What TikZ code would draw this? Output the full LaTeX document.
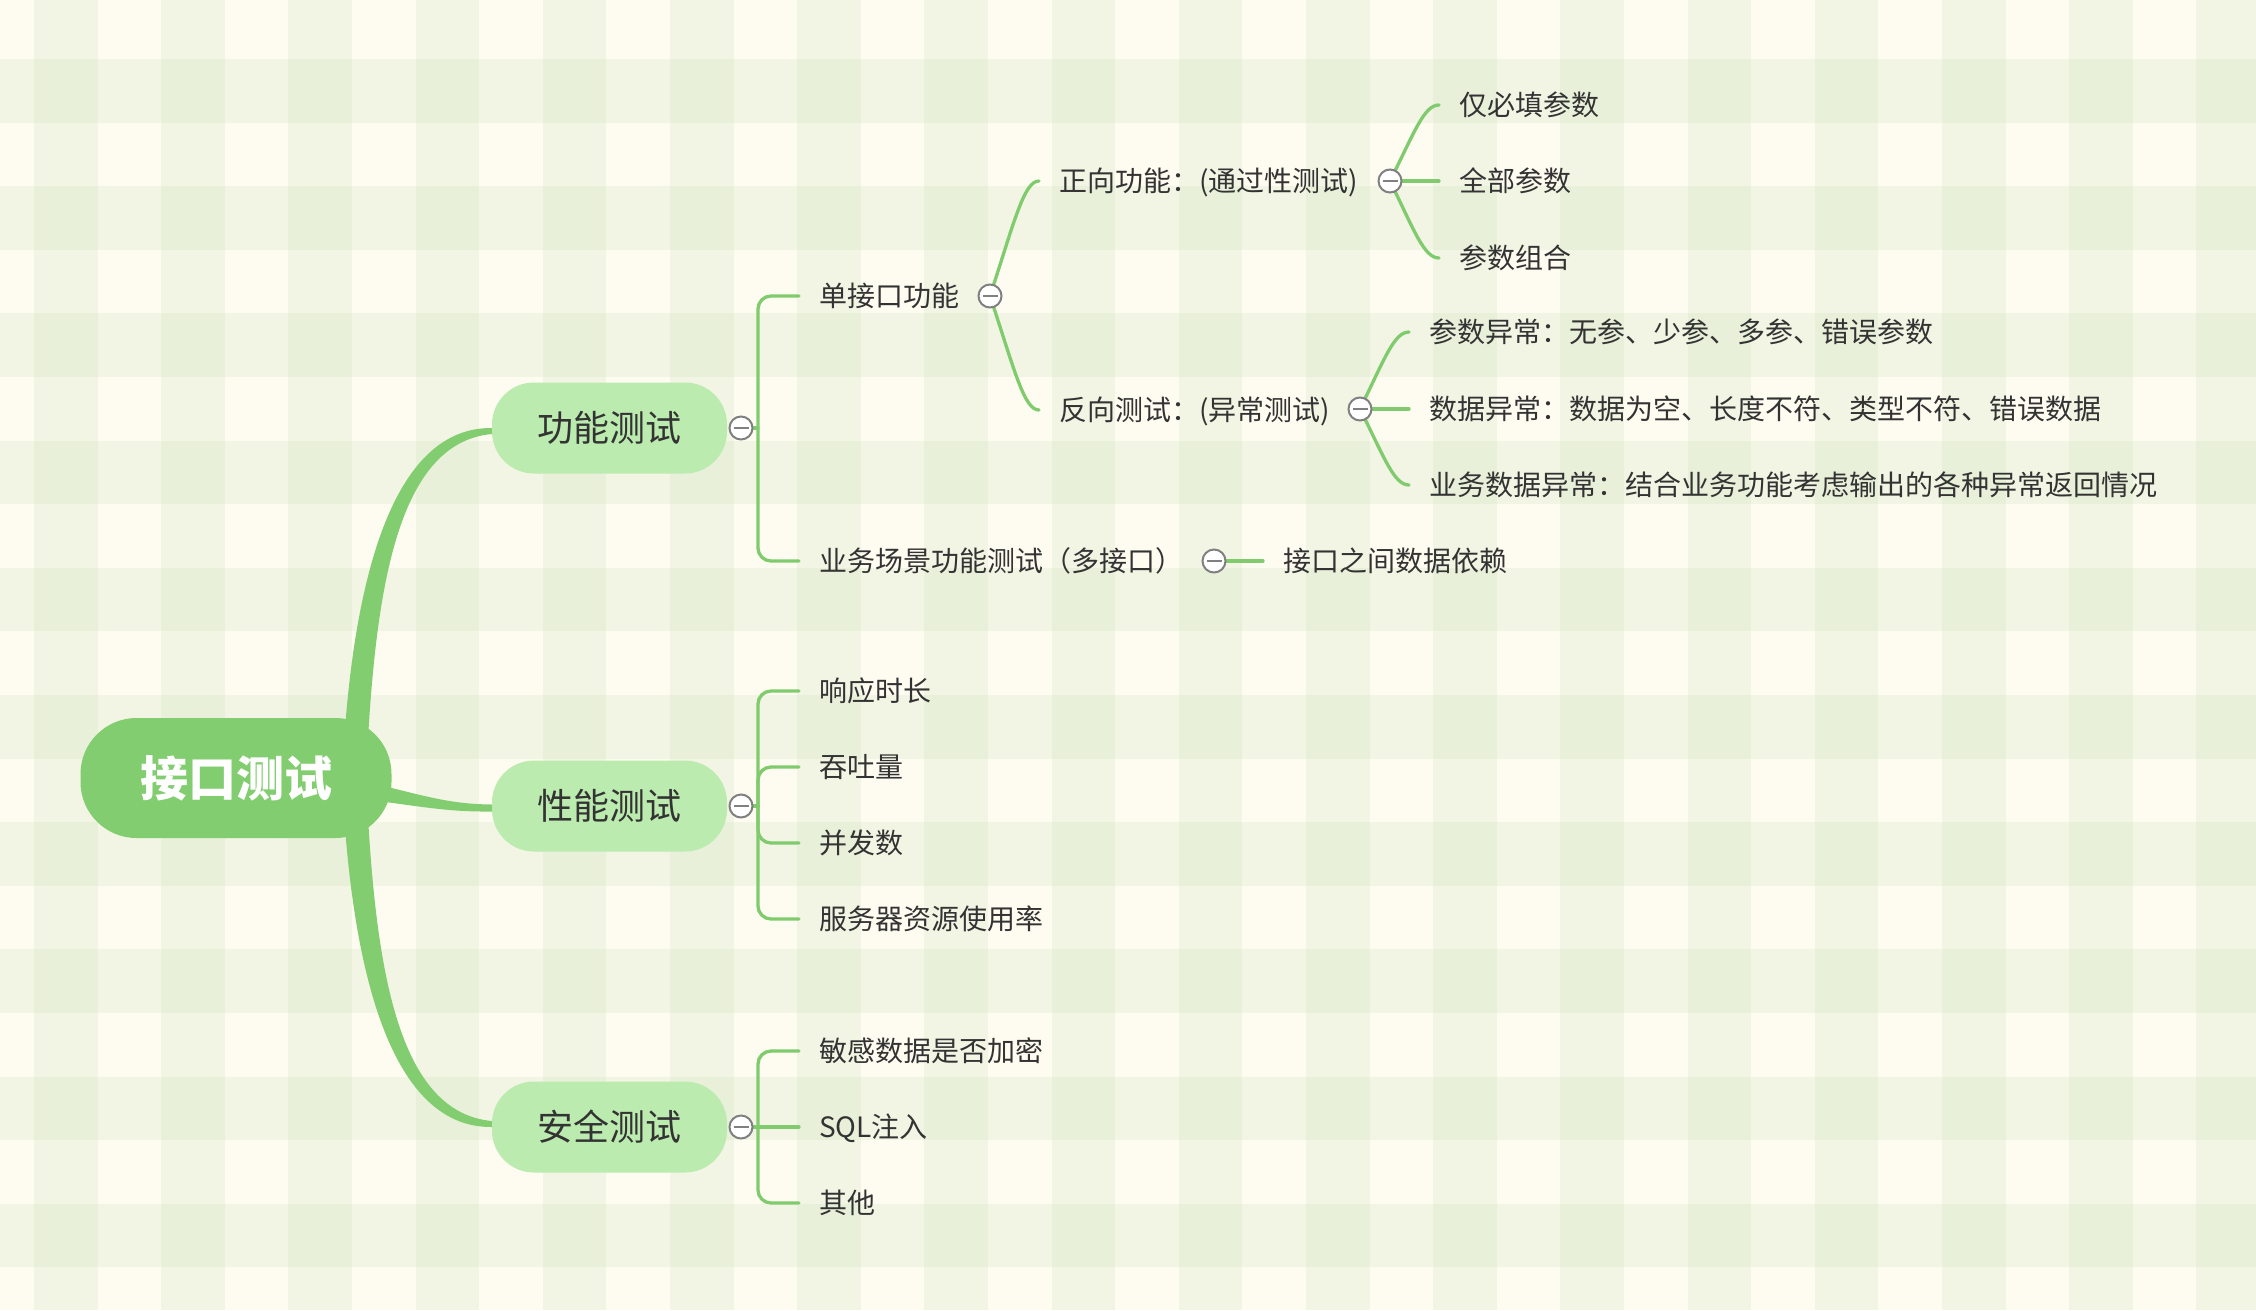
\documentclass[tikz,border=0pt]{standalone}
\usepackage{fontspec}
\setmainfont{Noto Sans CJK SC}
\usetikzlibrary{calc}
\definecolor{cream}{HTML}{FEFCF0}
\definecolor{chk}{HTML}{F2F5E3}
\definecolor{chkk}{HTML}{E9F0DA}
\definecolor{rootgreen}{HTML}{82CD70}
\definecolor{lgreen}{HTML}{BCEBAF}
\definecolor{linegreen}{HTML}{80CB6E}
\definecolor{txt}{HTML}{333333}
\definecolor{knobgray}{HTML}{808080}
\pgfdeclarelayer{bgpat}
\pgfdeclarelayer{edges}
\pgfsetlayers{bgpat,edges,main}
\tikzset{
  rootbox/.style={rounded corners=56, fill=rootgreen, minimum width=311, minimum height=120, inner sep=0,
    text=white, font=\fontsize{48}{58}\selectfont\bfseries, text height=40, text depth=3.5},
  lonebox/.style={rounded corners=42, fill=lgreen, minimum width=235, minimum height=91, inner sep=0,
    text=txt, font=\fontsize{36}{44}\selectfont, text height=30, text depth=2.5},
  lbl/.style={anchor=west, inner sep=0, text=txt, font=\fontsize{28}{34}\selectfont, text height=23.2, text depth=2},
  knob/.style={circle, draw=knobgray, fill=white, line width=2, minimum size=23, inner sep=0,
    path picture={\draw[knobgray, line width=2.4] ([xshift=-7.5]path picture bounding box.center) -- ([xshift=7.5]path picture bounding box.center);}},
  conn/.style={draw=linegreen, line width=3.3, line cap=round},
  elbow/.style={conn, rounded corners=13},
}
\begin{document}
\begin{tikzpicture}[x=1pt,y=-1pt]
\useasboundingbox (0,0) rectangle (2256,1310);
% background plaid
\begin{pgfonlayer}{bgpat}
\fill[cream] (0,0) rectangle (2256,1310);
\begin{scope}
\clip (0,0) rectangle (2256,1310);
\foreach \k in {0,...,17} \fill[chk] ({34+127.2*\k},0) rectangle ++(63.6,1310);
\foreach \j in {0,...,9} \fill[chk] (0,{59+127.2*\j}) rectangle ++(2256,63.6);
\foreach \k in {0,...,17} \foreach \j in {0,...,9} \fill[chkk] ({34+127.2*\k},{59+127.2*\j}) rectangle ++(63.6,63.6);
\end{scope}
\end{pgfonlayer}

% main nodes
\node[rootbox] (root) at (236,778) {接口测试};
\node[lonebox] (f) at (609.5,428) {功能测试};
\node[lonebox] (p) at (609.5,806) {性能测试};
\node[lonebox] (s) at (609.5,1127) {安全测试};

% level 2 (功能测试)
\node[lbl] (a1) at (819,296) {单接口功能};
\node[lbl] (a2) at (819,561) {业务场景功能测试（多接口）};
\node[lbl] (a3) at (1283,561) {接口之间数据依赖};
% level 3
\node[lbl] (b1) at (1059,181) {正向功能：(通过性测试)};
\node[lbl] (b2) at (1059,410) {反向测试：(异常测试)};
% level 4
\node[lbl] (c1) at (1459,105) {仅必填参数};
\node[lbl] (c2) at (1459,181) {全部参数};
\node[lbl] (c3) at (1459,258) {参数组合};
\node[lbl] (d1) at (1429,332) {参数异常：无参、少参、多参、错误参数};
\node[lbl] (d2) at (1429,409) {数据异常：数据为空、长度不符、类型不符、错误数据};
\node[lbl] (d3) at (1429,485) {业务数据异常：结合业务功能考虑输出的各种异常返回情况};
% 性能测试
\node[lbl] (p1) at (819,691) {响应时长};
\node[lbl] (p2) at (819,767) {吞吐量};
\node[lbl] (p3) at (819,843) {并发数};
\node[lbl] (p4) at (819,919) {服务器资源使用率};
% 安全测试
\node[lbl] (s1) at (819,1051) {敏感数据是否加密};
\node[lbl] (s2) at (819,1127) {SQL注入};
\node[lbl] (s3) at (819,1203) {其他};

% collapse knobs
\node[knob] (fk) at (741,428) {};
\node[knob] (pk) at (741,806) {};
\node[knob] (sk) at (741,1127) {};
\node[knob] (ak1) at (990,296) {};
\node[knob] (ak2) at (1214,561) {};
\node[knob] (bk1) at (1390,181) {};
\node[knob] (bk2) at (1360,409) {};

\begin{pgfonlayer}{edges}
% thick tapered branches from the root
\fill[rootgreen] ($(root.center)+(106,0)$) .. controls ($(root.center)+(114,-178)$) and ($(f.west)+(-106,-1)$) .. ($(f.west)+(0,0)$)
  -- ($(f.west)+(0,6)$) .. controls ($(f.west)+(-98,15)$) and ($(root.center)+(138,-178)$) .. ($(root.center)+(130,0)$) -- cycle;
\fill[rootgreen] ($(root.center)+(106,0)$) .. controls ($(root.center)+(114,178)$) and ($(s.west)+(-106,1)$) .. ($(s.west)+(0,0)$)
  -- ($(s.west)+(0,-6)$) .. controls ($(s.west)+(-98,-15)$) and ($(root.center)+(138,178)$) .. ($(root.center)+(130,0)$) -- cycle;
\fill[rootgreen] ($(root.center)+(126,3)$) .. controls ($(root.center)+(184,16)$) and ($(p.west)+(-47,-2)$) .. ($(p.west)+(0,-1.5)$)
  -- ($(p.west)+(0,5.5)$) .. controls ($(p.west)+(-47,6)$) and ($(root.center)+(184,28)$) .. ($(root.center)+(126,21)$) -- cycle;

% elbow connectors
\draw[conn] (fk.center) -- ++(17,0);
\foreach \c in {a1,a2} \draw[elbow] ($(fk.center)+(17,0)$) |- ($(\c.west)+(-20,0)$);
\draw[conn] (pk.center) -- ++(17,0);
\foreach \c in {p1,p2,p3,p4} \draw[elbow] ($(pk.center)+(17,0)$) |- ($(\c.west)+(-20,0)$);
\draw[conn] (sk.center) -- ($(s2.west)+(-20,0)$);
\foreach \c in {s1,s3} \draw[elbow] ($(sk.center)+(17,0)$) |- ($(\c.west)+(-20,0)$);

\draw[conn] (ak2.center) -- ($(a3.west)+(-20,0)$);

% curved connectors
\draw[conn] (ak1.center) .. controls +(24.5,-75) and +(-15,0) .. ($(b1.west)+(-20,0)$);
\draw[conn] (ak1.center) .. controls +(24.5,74) and +(-15,0) .. ($(b2.west)+(-20,0)$);
\draw[conn] (bk1.center) .. controls +(24.5,-49) and +(-15,0) .. ($(c1.west)+(-20,0)$);
\draw[conn] (bk1.center) -- ($(c2.west)+(-20,0)$);
\draw[conn] (bk1.center) .. controls +(24.5,50) and +(-15,0) .. ($(c3.west)+(-20,0)$);
\draw[conn] (bk2.center) .. controls +(24.5,-50) and +(-15,0) .. ($(d1.west)+(-20,0)$);
\draw[conn] (bk2.center) -- ($(d2.west)+(-20,0)$);
\draw[conn] (bk2.center) .. controls +(24.5,49) and +(-15,0) .. ($(d3.west)+(-20,0)$);
\end{pgfonlayer}
\end{tikzpicture}
\end{document}
